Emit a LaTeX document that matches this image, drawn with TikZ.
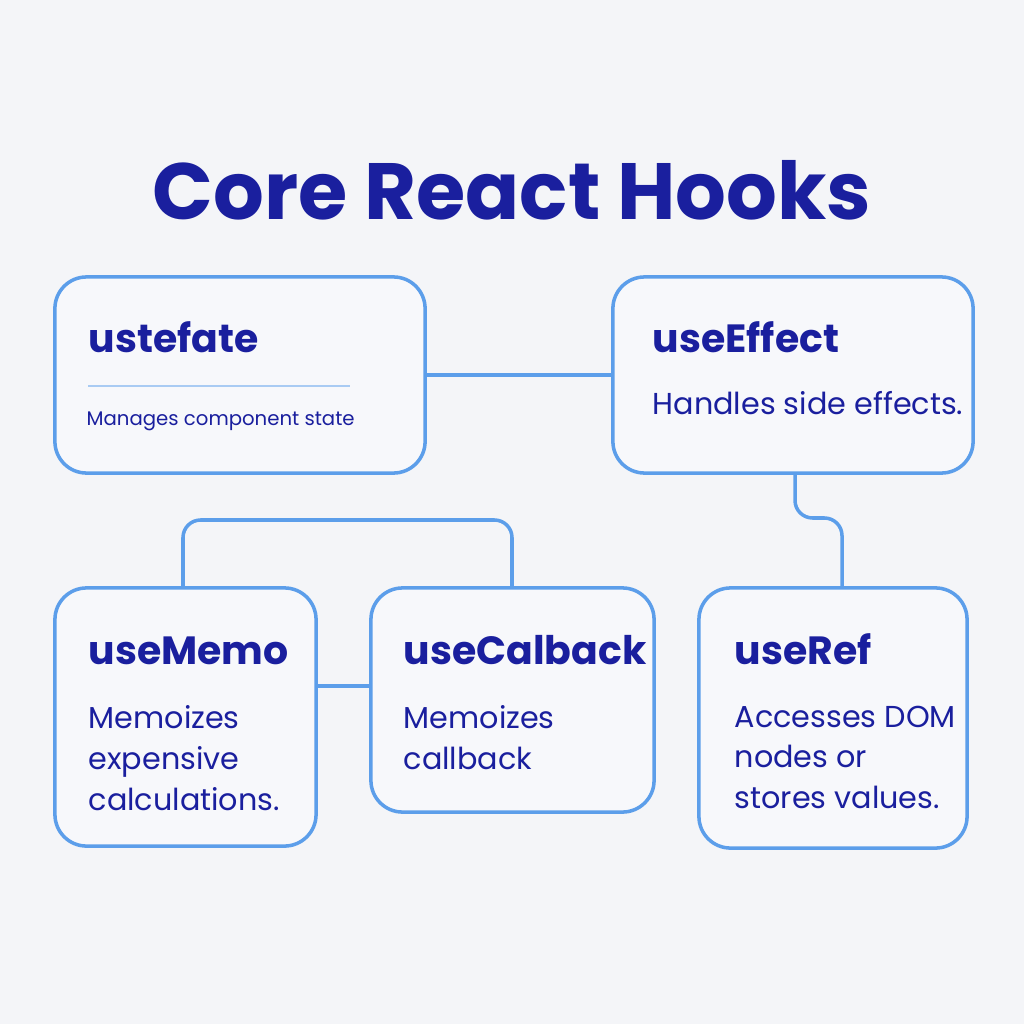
\documentclass[tikz,border=0pt]{standalone}
\usepackage{fontspec}
\setmainfont{Poppins}
\definecolor{bg}{HTML}{F4F5F8}
\definecolor{boxfill}{HTML}{F7F8FB}
\definecolor{edge}{HTML}{5C9EEA}
\definecolor{ink}{HTML}{1A1F9E}
\definecolor{rule}{HTML}{A9CBF3}
\tikzset{
  hookbox/.style={draw=edge, line width=1pt, fill=boxfill, rounded corners=9pt, inner sep=0pt},
  hookname/.style={anchor=base west, inner sep=0pt, text=ink, font=\fontsize{11.2}{13}\selectfont\bfseries},
  hooknote/.style={anchor=base west, inner sep=0pt, text=ink, align=left, font=\fontsize{8.6}{11.6}\selectfont},
  multinote/.style={hooknote, anchor=north west},
  link/.style={draw=edge, line width=1pt, rounded corners=5pt}
}
\begin{document}
\begin{tikzpicture}[x=0.01cm, y=-0.01cm]
 \fill[bg] (0,0) rectangle (1024,1024);
 \useasboundingbox (0,0) rectangle (1024,1024);

 \node[text=ink, font=\fontsize{22.7}{26}\selectfont\bfseries] (title) at (512,190) {Core React Hooks};

 % boxes
 \node[hookbox, minimum width=3.70cm, minimum height=1.96cm] (state)  at (240,375) {};
 \node[hookbox, minimum width=3.60cm, minimum height=1.96cm] (effect) at (793,375) {};
 \node[hookbox, minimum width=2.61cm, minimum height=2.58cm] (memo)   at (185.5,717) {};
 \node[hookbox, minimum width=2.83cm, minimum height=2.24cm] (cback)  at (512.5,700) {};
 \node[hookbox, minimum width=2.68cm, minimum height=2.60cm] (ref)    at (833,718) {};

 % lines
 \draw[link] (state.east) -- (effect.west);
 \draw[link] (memo.east |- 0,686) -- (cback.west |- 0,686);
 \draw[link] (183,588) -- (183,520) -- (512,520) -- (512,588);
 \draw[link] (795,473) -- (795,518) -- (842,518) -- (842,588);

 % texts
 \node[hookname] (n1) at (88,352) {ustefate};
 \draw[rule, line width=0.8pt] (88,386) -- (350,386);
 \node[hooknote, font=\fontsize{5.6}{7}\selectfont] (t1) at (86,425) {Manages component state};

 \node[hookname] (n2) at (652,352) {useEffect};
 \node[hooknote] (t2) at (652,414) {Handles side effects.};

 \node[hookname] (n3) at (88,664) {useMemo};
 \node[multinote] (t3) at (88,705) {Memoizes\\expensive\\calculations.};

 \node[hookname] (n4) at (403,664) {useCalback};
 \node[multinote] (t4) at (403,705) {Memoizes\\callback};

 \node[hookname] (n5) at (734,664) {useRef};
 \node[multinote] (t5) at (734,705) {Accesses DOM\\nodes or\\stores values.};
\end{tikzpicture}
\end{document}
